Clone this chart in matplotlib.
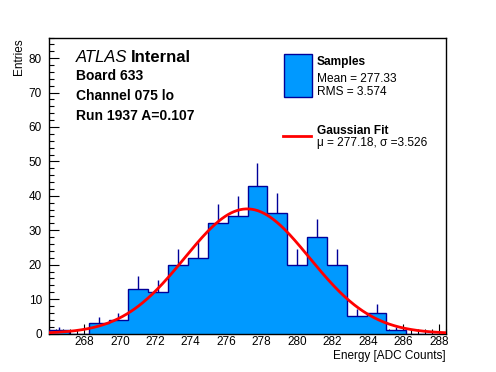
import numpy as np
import matplotlib
matplotlib.use("Agg")
import matplotlib.pyplot as plt
from matplotlib.ticker import MultipleLocator, FixedLocator
from matplotlib.patches import Rectangle
from matplotlib.lines import Line2D

plt.rcParams['font.family'] = ['Liberation Sans', 'DejaVu Sans']

# histogram: 20 bins from 266 to 288.4
bin_lo = 266.0
bin_width = 1.12
counts = [1, 0, 3, 4, 13, 12, 20, 22, 32, 34, 43, 35, 20, 28, 20, 5, 6, 1, 0, 0]
x_ticks = [268, 270, 272, 274, 276, 278, 280, 282, 284, 286, 288]

# gaussian fit parameters
fit_mu = 277.18
fit_sigma = 3.526
fit_amp = 36.2

header_lines = ["Board 633", "Channel 075 lo", "Run 1937 A=0.107"]
sample_stats = ["Mean = 277.33", "RMS = 3.574"]
fit_label = "\u03bc = 277.18, \u03c3 =3.526"

W, H = 496, 372
fig = plt.figure(figsize=(W / 100, H / 100), dpi=100)
ax = fig.add_axes([49 / W, 1 - 333.5 / H, (446 - 49) / W, (333.5 - 37.5) / H])

def fx(px):
    return px / W

def fy(py):
    return 1 - py / H

counts = np.array(counts, dtype=float)
edges = bin_lo + bin_width * np.arange(len(counts) + 1)
centers = 0.5 * (edges[:-1] + edges[1:])

hist_fill = "#0099ff"
hist_line = "#000099"

# error bars (lower half hidden behind the fill)
nz = counts > 0
ax.vlines(centers[nz], counts[nz] - np.sqrt(counts[nz]), counts[nz] + np.sqrt(counts[nz]),
          color=hist_line, lw=1, zorder=1)
ax.stairs(counts, edges, fill=True, color=hist_fill, zorder=2)
ax.stairs(counts, edges, color=hist_line, lw=1, zorder=3)

# gaussian fit curve
xs = np.linspace(edges[0], edges[-1], 400)
ax.plot(xs, fit_amp * np.exp(-0.5 * ((xs - fit_mu) / fit_sigma) ** 2), color="red", lw=2, zorder=4)

ax.set_xlim(edges[0], edges[-1])
ax.set_ylim(0, 86)
ax.xaxis.set_major_locator(FixedLocator(x_ticks))
ax.xaxis.set_minor_locator(MultipleLocator(0.4))
ax.yaxis.set_major_locator(MultipleLocator(10))
ax.yaxis.set_minor_locator(MultipleLocator(2))
ax.tick_params(which="both", direction="in", top=False, right=False, labelsize=8.5, width=0.8)
ax.tick_params(which="major", length=7)
ax.tick_params(which="minor", length=3.5)
ax.tick_params(axis="y", pad=5)
ax.tick_params(axis="x", pad=2)
for s in ax.spines.values():
    s.set_linewidth(1)

fig.text(fx(19), fy(38), "Entries", rotation=90, ha="center", va="top", fontsize=8.5)
fig.text(fx(446), fy(355.5), "Energy [ADC Counts]", ha="right", va="center", fontsize=8.5)

# ATLAS label and run info
fig.text(fx(76), fy(62.5), "ATLAS", style="italic", fontsize=12, va="baseline")
fig.text(fx(131), fy(62.5), "Internal", fontweight="bold", fontsize=12, va="baseline")
for line, base in zip(header_lines, [80, 100.5, 119.5]):
    fig.text(fx(76), fy(base), line, fontweight="bold", fontsize=10, va="baseline")

# legend
fig.add_artist(Rectangle((fx(283.5), fy(97)), fx(311.5) - fx(283.5), fy(53.5) - fy(97),
                         transform=fig.transFigure, facecolor=hist_fill, edgecolor=hist_line, lw=1))
fig.add_artist(Line2D([fx(283), fx(311)], [fy(136), fy(136)], transform=fig.transFigure,
                      color="red", lw=2))
fig.text(fx(317), fy(65), "Samples", fontweight="bold", fontsize=8.6, va="baseline")
for line, base in zip(sample_stats, [81.5, 95.3]):
    fig.text(fx(317), fy(base), line, fontsize=8.6, va="baseline")
fig.text(fx(317), fy(133.5), "Gaussian Fit", fontweight="bold", fontsize=8.6, va="baseline")
fig.text(fx(317), fy(146), fit_label, fontsize=8.6, va="baseline")

fig.savefig("out.png", dpi=100)
